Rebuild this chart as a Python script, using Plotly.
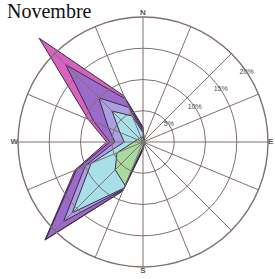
import plotly.graph_objects as go
import numpy as np

# 16 compass directions (degrees, clockwise from north)
directions = ["N", "NNE", "NE", "ENE", "E", "ESE", "SE", "SSE",
              "S", "SSW", "SW", "WSW", "W", "WNW", "NW", "NNW"]
angles = [0, 22.5, 45, 67.5, 90, 112.5, 135, 157.5,
          180, 202.5, 225, 247.5, 270, 292.5, 315, 337.5]

# frequency (%) per speed class and direction
class1 = [0.8, 0.2, 0.1, 0.1, 0.1, 0.1, 0.2, 0.3, 0.8, 7.5, 6.3, 4.5, 1.5, 1.0, 0.8, 0.8]
class2 = [0.7, 0.1, 0.1, 0.1, 0.1, 0.1, 0.1, 0.1, 0.2, 0.5, 9.7, 4.5, 1.5, 3.0, 6.2, 3.7]
class3 = [0.3, 0.1, 0.0, 0.0, 0.0, 0.0, 0.1, 0.1, 0.1, 0.2, 2.0, 1.0, 1.5, 2.0, 3.0, 1.5]
class4 = [0.3, 0.0, 0.1, 0.1, 0.1, 0.1, 0.0, 0.0, 0.1, 0.2, 4.0, 1.5, 0.8, 2.5, 7.5, 1.5]
class5 = [0.3, 0.1, 0.0, 0.0, 0.0, 0.0, 0.0, 0.0, 0.0, 0.1, 0.2, 0.3, 0.5, 1.0, 6.0, 0.5]

classes = [class1, class2, class3, class4, class5]
colors = ["#a9dba0", "#a8e0ea", "#ab9fe2", "#9a6bc8", "#d862c0"]

radial_ticks = [5, 10, 15, 20]
radial_labels = ["5%", "10%", "15%", "20%"]
radial_label_angle = 56
compass_angles = [0, 90, 180, 270]
compass_labels = ["N", "E", "S", "W"]
compass_positions = ["top center", "middle right", "bottom center", "middle left"]

cum = np.cumsum(np.array(classes), axis=0)

fig = go.Figure()
# stacked layers, outermost first
for i in range(len(classes) - 1, -1, -1):
    r = list(cum[i]) + [cum[i][0]]
    th = angles + [angles[0]]
    fig.add_trace(go.Scatterpolar(
        r=r, theta=th, mode="lines", fill="toself",
        fillcolor=colors[i], line=dict(color="#3b2b45", width=1),
        cliponaxis=False, subplot="polar", showlegend=False,
        hoverinfo="skip"))

# labels on the grid subplot (drawn on top)
fig.add_trace(go.Scatterpolar(
    r=radial_ticks, theta=[radial_label_angle] * len(radial_ticks),
    mode="text", text=radial_labels, cliponaxis=False,
    textfont=dict(size=7, color="#4a4a4a", family="Liberation Sans"),
    subplot="polar2", showlegend=False, hoverinfo="skip"))
fig.add_trace(go.Scatterpolar(
    r=[radial_ticks[-1]] * len(compass_angles), theta=compass_angles,
    mode="text", text=["<b>%s</b>" % t for t in compass_labels],
    textposition=compass_positions, cliponaxis=False,
    textfont=dict(size=8, color="#555555", family="Liberation Sans"),
    subplot="polar2", showlegend=False, hoverinfo="skip"))

W, H = 275, 279
cx, cy, R = 143, 142, 125
dom_x = [(cx - R) / W, (cx + R) / W]
dom_y = [(H - cy - R) / H, (H - cy + R) / H]
grid = "#7f706c"

fig.update_layout(
    width=W, height=H,
    margin=dict(l=0, r=0, t=0, b=0),
    paper_bgcolor="white",
    showlegend=False,
    polar=dict(
        domain=dict(x=dom_x, y=dom_y),
        bgcolor="white",
        radialaxis=dict(range=[0, 20], visible=False),
        angularaxis=dict(direction="clockwise", rotation=90, visible=False),
    ),
    polar2=dict(
        domain=dict(x=dom_x, y=dom_y),
        bgcolor="rgba(0,0,0,0)",
        radialaxis=dict(range=[0, 20], tickvals=radial_ticks, showticklabels=False,
                        showline=False, ticks="", gridcolor=grid, gridwidth=1.4),
        angularaxis=dict(direction="clockwise", rotation=90,
                         tickmode="array", tickvals=angles, showticklabels=False,
                         ticks="", showline=True, linecolor=grid, linewidth=1.4,
                         gridcolor=grid, gridwidth=1.4),
    ),
    annotations=[dict(text="Novembre", x=0.018, y=1.008, xref="paper", yref="paper",
                      xanchor="left", yanchor="top", showarrow=False,
                      font=dict(family="Liberation Serif", size=20, color="#111111"))],
)

post = """
document.body.style.margin = '0px';
var gd = document.getElementById('{plot_id}');
gd.querySelectorAll('.frontplot, .frontplot *').forEach(function(el){
    el.removeAttribute('clip-path');
});
"""

fig.write_html("out.html", post_script=post, config={"displayModeBar": False})
